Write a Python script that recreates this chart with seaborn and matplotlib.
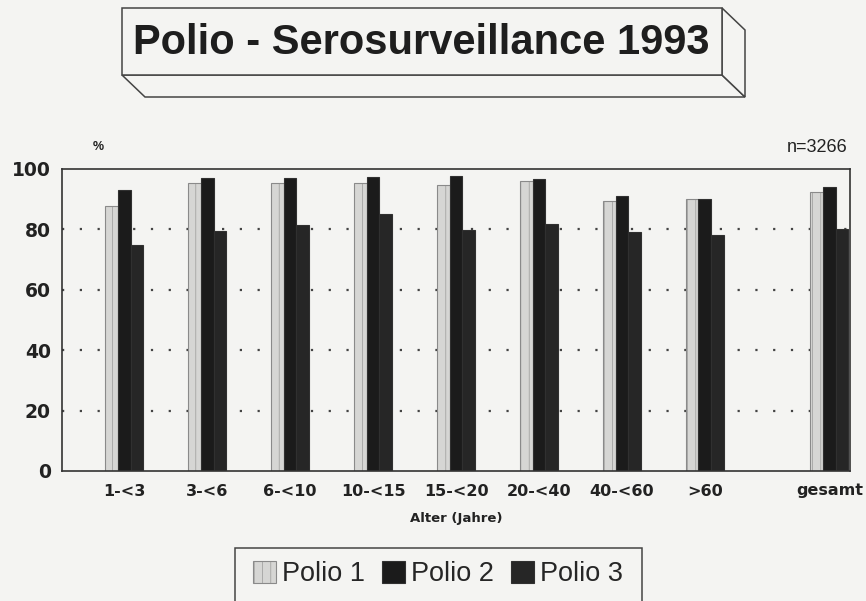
import matplotlib
matplotlib.use("Agg")
import matplotlib.pyplot as plt
from matplotlib.patches import Polygon, Rectangle
import numpy as np
import pandas as pd
import seaborn as sns

# --- data ---
age_groups = ["1-<3", "3-<6", "6-<10", "10-<15", "15-<20", "20-<40", "40-<60", ">60", "gesamt"]
positions = [0, 1, 2, 3, 4, 5, 6, 7, 8.5]   # "gesamt" set apart on the right
polio1 = [87.9, 95.3, 95.3, 95.3, 94.8, 95.9, 89.3, 90.1, 92.3]
polio2 = [93.0, 97.1, 97.1, 97.3, 97.6, 96.8, 90.9, 90.1, 94.0]
polio3 = [75.0, 79.4, 81.3, 85.0, 79.7, 81.9, 79.1, 78.0, 80.2]
series_names = ["Polio 1", "Polio 2", "Polio 3"]
y_ticks = [0, 20, 40, 60, 80, 100]

bg = "#f4f4f2"
colors = {"Polio 1": "#d6d6d4", "Polio 2": "#1b1b1b", "Polio 3": "#262626"}

df = pd.DataFrame({
    "pos": positions * 3,
    "value": polio1 + polio2 + polio3,
    "series": np.repeat(series_names, len(positions)),
})

sns.set_style("white")
plt.rcParams["font.family"] = ["Liberation Sans", "DejaVu Sans"]
plt.rcParams["hatch.linewidth"] = 0.4
wide = ["DejaVu Sans"]   # wide bold face for the axis texts

fig = plt.figure(figsize=(8.66, 6.01), dpi=100, facecolor=bg)
W, H = 866, 601
def fx(x):
    return x / W
def fy(y):
    return 1 - y / H

ax = fig.add_axes([fx(62), fy(471), fx(850) - fx(62), fy(169) - fy(471)])
ax.set_facecolor(bg)

sns.barplot(data=df, x="pos", y="value", hue="series", hue_order=series_names,
            palette=colors, native_scale=True, width=0.46, dodge=True,
            errorbar=None, saturation=1, legend=False, ax=ax,
            edgecolor="#303030", linewidth=0.8)

# light texture on the Polio 1 bars
for bar in ax.patches[:len(positions)]:
    bar.set_hatch("||")
    bar.set_edgecolor("#8a8a8a")

ax.set_xlim(-0.75, 8.75)
ax.set_ylim(0, 100)
ax.set_yticks(y_ticks)
ax.set_yticklabels([str(t) for t in y_ticks], fontsize=13.5, fontweight="bold",
                   color="#222", family=wide)
ax.set_xticks(positions)
ax.set_xticklabels(age_groups, fontsize=11.5, fontweight="bold", color="#222", family=wide)
ax.tick_params(axis="both", length=0)
ax.tick_params(axis="x", pad=9)
ax.tick_params(axis="y", pad=8)

for t in y_ticks[1:-1]:
    ax.axhline(t, color="#444", linestyle=(0, (1, 7)), linewidth=1.6, zorder=0)

for s in ax.spines.values():
    s.set_visible(True)
    s.set_color("#333")
    s.set_linewidth(1.2)

ax.set_xlabel("Alter (Jahre)", fontsize=9.5, fontweight="bold", color="#222",
              labelpad=10, family=wide)
ax.set_ylabel("")

fig.text(fx(93), fy(147), "%", fontsize=9, fontweight="bold", color="#222", va="center")
fig.text(fx(848), fy(147), "n=3266", fontsize=13, color="#222", ha="right", va="center")

# --- title in a 3D box ---
lc = "#444"
front = [(122, 8), (722, 8), (722, 75), (122, 75)]
side = [(722, 8), (745, 30), (745, 97), (722, 75)]
bottom = [(122, 75), (722, 75), (745, 97), (145, 97)]
for poly in (bottom, side, front):
    fig.add_artist(Polygon([(fx(x), fy(y)) for x, y in poly], closed=True,
                           transform=fig.transFigure, facecolor=bg,
                           edgecolor=lc, linewidth=1.1))
fig.text(fx(421), fy(43), "Polio - Serosurveillance 1993", fontsize=30,
         fontweight="bold", color="#1e1e1e", ha="center", va="center")

# --- legend box at bottom ---
fig.add_artist(Rectangle((fx(235), fy(612)), fx(642) - fx(235), fy(548) - fy(612),
                         transform=fig.transFigure, facecolor=bg,
                         edgecolor=lc, linewidth=1.1))
handles = [Rectangle((0, 0), 1, 1, facecolor=colors[n], edgecolor="#303030",
                     linewidth=0.8, hatch="||" if n == "Polio 1" else None)
           for n in series_names]
handles[0].set_edgecolor("#8a8a8a")
fig.legend(handles, series_names, loc="center", bbox_to_anchor=(fx(438), fy(574)),
           ncol=3, frameon=False, fontsize=19.5, handlelength=0.85, handleheight=0.85,
           handletextpad=0.25, columnspacing=0.6)

fig.savefig("out.png", dpi=100, facecolor=bg)
